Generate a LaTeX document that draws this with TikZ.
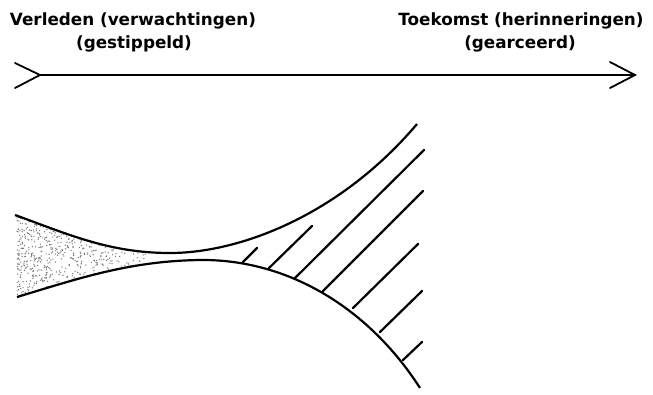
\documentclass[tikz,border=0pt]{standalone}
\usepackage{fontspec}
\setmainfont{DejaVu Sans}
\begin{document}
\begin{tikzpicture}[x=1pt,y=-1pt,
  lbl/.style={font=\bfseries\fontsize{16.8}{19}\selectfont, inner sep=0pt, align=center},
  axis/.style={line width=1.8pt, line cap=round, line join=miter},
  curve/.style={line width=2.2pt},
  hatch/.style={line width=2.2pt, line cap=round}]
\useasboundingbox (0,0) rectangle (653,394);
% labels
\node[lbl] (past) at (133,21) {Verleden (verwachtingen)};
\node[lbl] (pastsub) at (134,44) {(gestippeld)};
\node[lbl] (fut) at (521,21) {Toekomst (herinneringen)};
\node[lbl] (futsub) at (520,44) {(gearceerd)};
% time axis
\coordinate (a0) at (40,75);
\coordinate (a1) at (635,75);
\draw[axis] (a0) -- (a1);
\draw[axis] (15,63) -- (a0) -- (15,88);
\draw[axis] (610,62) -- (a1) -- (610,88);
% stipple
\begin{scope}
\clip (15,215) .. controls (70,235) and (110,253) .. (170,253) -- (200,260) .. controls (130,261) and (80,278) .. (17,297) -- cycle;
\pgfmathsetseed{11}
\foreach \i in {1,...,900}{
  \pgfmathsetmacro\u{rnd}
  \pgfmathsetmacro\px{17+130*pow(\u,1.25)}
  \pgfmathsetmacro\py{212+90*rnd}
  \fill[black!55] (\px,\py) circle (0.7pt);
}
\end{scope}
% curves
\draw[curve] (15,215) .. controls (70,235) and (110,253) .. (170,253) .. controls (240,253) and (340,215) .. (417,124);
\draw[curve] (17,297) .. controls (80,278) and (130,261) .. (200,260) .. controls (290,259) and (370,310) .. (420,388);
% hatching
\draw[hatch] (243,262) -- (257,248);
\draw[hatch] (269,268) -- (312,226);
\draw[hatch] (295,278) -- (424,150);
\draw[hatch] (323,291) -- (423,191);
\draw[hatch] (353,308) -- (418,244);
\draw[hatch] (380,332) -- (422,291);
\draw[hatch] (403,360) -- (422,342);
\end{tikzpicture}
\end{document}
